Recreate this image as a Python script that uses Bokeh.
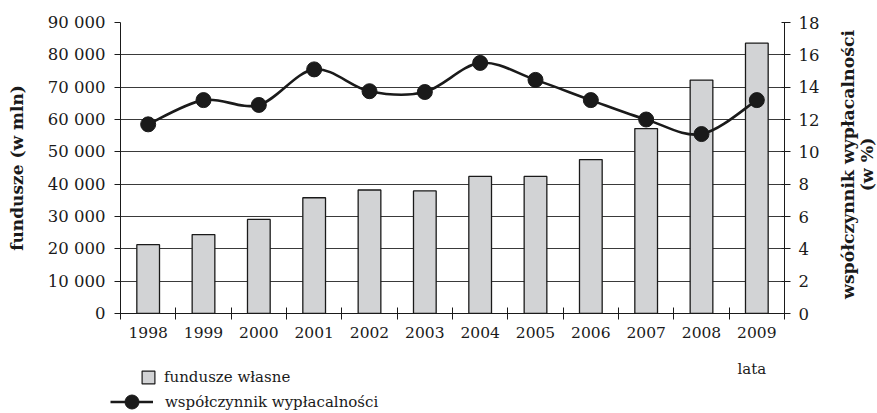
import math

from bokeh.plotting import figure
from bokeh.layouts import column, row
from bokeh.models import (Range1d, LinearAxis, FixedTicker, Legend, LegendItem,
                          Label)
from bokeh.embed import file_html
from bokeh.resources import INLINE

# --- data -------------------------------------------------------------
years = ["1998", "1999", "2000", "2001", "2002", "2003",
         "2004", "2005", "2006", "2007", "2008", "2009"]
fundusze_wlasne = [21300, 24400, 29100, 35800, 38200, 37900,
                   42400, 42400, 47600, 57200, 72200, 83600]
wspolczynnik = [11.7, 13.2, 12.9, 15.1, 13.75, 13.7,
                15.5, 14.45, 13.2, 12.0, 11.1, 13.2]
left_ticks = list(range(0, 90001, 10000))
right_ticks = list(range(0, 19, 2))
right_title = ["współczynnik wypłacalności", "(w %)"]

FONT = "DejaVu Serif"
INK = "#1a1a1a"
GRID = "#3a3a3a"
BAR = "#d2d3d5"

n = len(years)
xc = [i + 0.5 for i in range(n)]

# --- main chart -------------------------------------------------------------
p = figure(width=835, height=349, output_backend="svg", toolbar_location=None,
           x_range=Range1d(0, n), y_range=Range1d(0, 90000),
           min_border_left=120, min_border_right=51,
           min_border_top=22, min_border_bottom=36)
p.outline_line_color = None
p.extra_y_ranges = {"right": Range1d(0, 18)}

p.vbar(x=xc, top=fundusze_wlasne, width=0.41, bottom=0,
       fill_color=BAR, line_color=INK, line_width=1.3)

# smoothed line: cubic Bezier segments with Catmull-Rom style handles
x0, y0, x1, y1, cx0, cy0, cx1, cy1 = [], [], [], [], [], [], [], []
for i in range(n - 1):
    pm = i - 1 if i > 0 else i
    pp = i + 2 if i + 2 < n else i + 1
    x0.append(xc[i]); y0.append(wspolczynnik[i])
    x1.append(xc[i + 1]); y1.append(wspolczynnik[i + 1])
    cx0.append(xc[i] + (xc[i + 1] - xc[pm]) / 6)
    cy0.append(wspolczynnik[i] + (wspolczynnik[i + 1] - wspolczynnik[pm]) / 6)
    cx1.append(xc[i + 1] - (xc[pp] - xc[i]) / 6)
    cy1.append(wspolczynnik[i + 1] - (wspolczynnik[pp] - wspolczynnik[i]) / 6)
p.bezier(x0=x0, y0=y0, x1=x1, y1=y1, cx0=cx0, cy0=cy0, cx1=cx1, cy1=cy1,
         line_color=INK, line_width=2.6, y_range_name="right")
p.scatter(x=xc, y=wspolczynnik, size=15, marker="circle",
          fill_color=INK, line_color=INK, y_range_name="right")

# axes
xa = p.xaxis[0]
xa.ticker = FixedTicker(ticks=xc, minor_ticks=list(range(n + 1)))
xa.major_label_overrides = {x: y for x, y in zip(xc, years)}
xa.major_tick_in = 0
xa.major_tick_out = 0
xa.minor_tick_in = 6
xa.minor_tick_out = 6
xa.minor_tick_line_color = INK
xa.axis_line_color = INK
xa.major_label_standoff = 7
xa.major_label_text_font = FONT
xa.major_label_text_font_size = "15.5px"
xa.major_label_text_color = INK

ya = p.yaxis[0]
ya.ticker = FixedTicker(ticks=left_ticks, minor_ticks=[])
ya.major_label_overrides = {v: f"{v:,}".replace(",", " ") for v in left_ticks}
ya.major_tick_in = 0
ya.major_tick_out = 6
ya.major_tick_line_color = INK
ya.axis_line_color = INK
ya.major_label_standoff = 9
ya.major_label_text_font = FONT
ya.major_label_text_font_size = "16.5px"
ya.major_label_text_color = INK
ya.axis_label = "fundusze (w mln)"
ya.axis_label_text_font = FONT
ya.axis_label_text_font_style = "bold"
ya.axis_label_text_font_size = "17px"
ya.axis_label_text_color = INK
ya.axis_label_standoff = 18

ra = LinearAxis(y_range_name="right",
                ticker=FixedTicker(ticks=right_ticks, minor_ticks=[]))
ra.major_tick_in = 3
ra.major_tick_out = 6
ra.major_tick_line_color = INK
ra.axis_line_color = INK
ra.major_label_standoff = 8
ra.major_label_text_font = FONT
ra.major_label_text_font_size = "16.5px"
ra.major_label_text_color = INK
p.add_layout(ra, "right")

p.xgrid.visible = False
p.ygrid.ticker = FixedTicker(ticks=left_ticks)
p.ygrid.grid_line_color = GRID
p.ygrid.grid_line_width = 1

# --- right-hand axis title strip (coordinates = page pixels) ---------------
r = figure(width=42, height=349, output_backend="svg", toolbar_location=None,
           x_range=Range1d(835, 877), y_range=Range1d(313, 22),
           x_axis_type=None, y_axis_type=None,
           min_border_left=0, min_border_right=0,
           min_border_top=22, min_border_bottom=36)
r.outline_line_color = None
r.xgrid.visible = False
r.ygrid.visible = False
for line_text, lx in zip(right_title, [847, 866]):
    r.add_layout(Label(x=lx, y=164, text=line_text, angle=math.pi / 2,
                       text_font=FONT, text_font_style="bold",
                       text_font_size="17.3px", text_color=INK,
                       text_align="center", text_baseline="middle"))

# --- legend strip under the chart (coordinates = page pixels) --------------
q = figure(width=877, height=64, output_backend="svg", toolbar_location=None,
           x_range=Range1d(0, 877), y_range=Range1d(413, 349),
           x_axis_type=None, y_axis_type=None,
           min_border_left=0, min_border_right=0,
           min_border_top=0, min_border_bottom=0)
q.outline_line_color = None
q.xgrid.visible = False
q.ygrid.visible = False

# key glyphs, parked outside the visible range
sq = q.scatter(x=[-999], y=[-999], marker="square", size=13,
               fill_color=BAR, line_color=INK, line_width=1.2)
ln = q.line(x=[-999, -998], y=[-999, -999], line_color=INK, line_width=2.6)
dot = q.scatter(x=[-999], y=[-999], marker="circle", size=15,
                fill_color=INK, line_color=INK)


def make_legend(items, loc, glyph_w, glyph_h, standoff):
    return Legend(items=items, location=loc, orientation="vertical",
                  glyph_width=glyph_w, glyph_height=glyph_h,
                  label_standoff=standoff,
                  padding=0, margin=0, spacing=0, label_height=16,
                  border_line_color=None, background_fill_alpha=0,
                  label_text_font=FONT, label_text_font_size="15px",
                  label_text_color=INK)


q.add_layout(make_legend([LegendItem(label="fundusze własne", renderers=[sq])],
                         (132, 20), 32, 32, 0))
q.add_layout(make_legend([LegendItem(label="współczynnik wypłacalności",
                                      renderers=[ln, dot])],
                         (110, -6), 43, 35, 12))
q.add_layout(Label(x=737, y=368, text="lata", text_font=FONT,
                   text_font_size="15px", text_color=INK,
                   text_baseline="middle", text_align="left"))

layout = column(row(p, r, spacing=0), q, spacing=0)
open("out.html", "w").write(file_html(layout, INLINE))
